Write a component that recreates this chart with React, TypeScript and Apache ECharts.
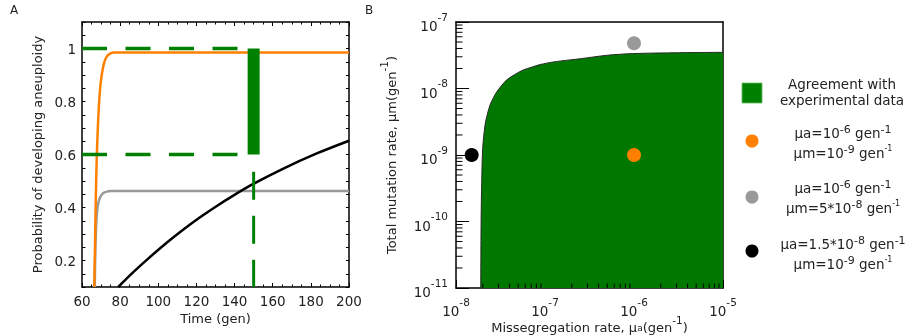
import React, { useEffect, useRef } from "react";
import * as echarts from "echarts";

// ---------- Panel A data ----------
const timeOrange = [66.4, 66.8, 67.2, 67.7, 68.3, 69.0, 69.8, 70.8, 72.0, 73.2, 74.8, 76.6, 200];
const probOrange = [0.1, 0.25, 0.42, 0.58, 0.7, 0.8, 0.87, 0.92, 0.955, 0.972, 0.981, 0.985, 0.985];
const timeGray = [66.7, 67.0, 67.4, 67.9, 68.5, 69.4, 70.5, 71.8, 73.2, 75.0, 200];
const probGray = [0.1, 0.24, 0.33, 0.385, 0.415, 0.437, 0.45, 0.457, 0.46, 0.462, 0.462];
const timeBlack = [79, 86.9, 95.0, 104.4, 113.0, 121.9, 130.5, 139.3, 149.8, 165.6, 183.1, 200];
const probBlack = [0.1, 0.156, 0.209, 0.267, 0.316, 0.363, 0.405, 0.445, 0.489, 0.547, 0.604, 0.652];
const refTime = [60, 150];
const refUpper = [1, 1];
const refLower = [0.6, 0.6];
const barTime = [150, 150];
const barProb = [0.6, 1.0];
const cutTime = [150, 150];
const cutProb = [0.535, 0.1];
const xTicksA = [60, 200, 20];
const yLabelsA = [0.2, 0.4, 0.6, 0.8, 1];

// ---------- Panel B data (log10 of the rates) ----------
const boundaryLogMuA = [-7.722, -7.718, -7.711, -7.7, -7.674, -7.65, -7.618, -7.58, -7.542, -7.49, -7.43, -7.34, -7.243, -7.15, -7.055, -6.9, -6.718, -6.605, -6.3, -6.009, -5.5, -5.0];
const boundaryLogMuM = [-11.0, -10.0, -9.4, -8.9, -8.55, -8.4, -8.25, -8.14, -8.05, -7.96, -7.87, -7.79, -7.72, -7.68, -7.64, -7.6, -7.57, -7.553, -7.5, -7.475, -7.462, -7.456];
const pointOrange = [1e-6, 1e-9];
const pointGray = [1e-6, 4.8e-8];
const pointBlack = [1.5e-8, 1e-9];
const xDecadesB = [-8, -7, -6, -5];
const yDecadesB = [-11, -10, -9, -8, -7];
const minorMultipliers = [2, 3, 4, 5, 6, 7, 8, 9];

const FONT = "DejaVu Sans";
const TXT = "#222";
const GREEN = "#008000";
const FILL = "#007800";
const ORANGE = "#ff8000";
const GRAY = "#999999";

const lg = (v: number) => Math.log10(v);
const zip = (a: number[], b: number[]) => a.map((v, i) => [v, b[i]]);

function minorLogs(decades: number[]) {
  const out: number[] = [];
  for (let i = 0; i < decades.length - 1; i++) {
    for (const m of minorMultipliers) out.push(decades[i] + lg(m));
  }
  return out;
}

const supRich = {
  b: { fontSize: 13.5, fontFamily: FONT, color: TXT, lineHeight: 22, verticalAlign: "bottom" as const },
  s: { fontSize: 10.5, fontFamily: FONT, color: TXT, lineHeight: 12, verticalAlign: "top" as const },
};

export default function App() {
  const ref = useRef<HTMLDivElement>(null);
  useEffect(() => {
    document.body.style.margin = "0";
    if (!ref.current) return;
    const chart = echarts.init(ref.current, null, { renderer: "svg" });

    const black = { color: "#000" };
    const nameStyle = { fontSize: 13, fontFamily: FONT, color: TXT };
    const labelStyle = { fontSize: 13.5, fontFamily: FONT, color: TXT };
    const logLabel = (v: number) => `{b|10}{s|-${Math.abs(Math.round(v))}}`;

    const legendLine = (x: number, y: number, text: string) => ({
      type: "text",
      x,
      y,
      style: {
        text,
        align: "center",
        verticalAlign: "middle",
        fill: TXT,
        font: `13.5px ${FONT}`,
        rich: {
          b: { fontSize: 13.5, fontFamily: FONT, fill: TXT, lineHeight: 16, verticalAlign: "bottom" },
          s: { fontSize: 11, fontFamily: FONT, fill: TXT, lineHeight: 10, verticalAlign: "top" },
          t: { fontSize: 8, fontFamily: FONT, fill: TXT, lineHeight: 10, verticalAlign: "top" },
        },
      },
    });

    const option: any = {
      animation: false,
      textStyle: { fontFamily: FONT },
      grid: [
        { left: 82, top: 22, width: 267, height: 265, outerBoundsMode: "none", containLabel: false },
        { left: 456, top: 22, width: 267, height: 266, outerBoundsMode: "none", containLabel: false },
      ],
      xAxis: [
        {
          gridIndex: 0, type: "value", position: "bottom",
          min: xTicksA[0], max: xTicksA[1], interval: xTicksA[2],
          axisLine: { lineStyle: { color: "#000", width: 1.5 } },
          axisTick: { inside: true, length: 4, lineStyle: black },
          minorTick: { show: true, splitNumber: 4, length: 2.5, lineStyle: black },
          splitLine: { show: false },
          axisLabel: { ...labelStyle, margin: 7 },
          name: "Time (gen)", nameLocation: "middle", nameGap: 25, nameMoveOverlap: false,
          nameTextStyle: nameStyle,
        },
        {
          gridIndex: 0, type: "value", position: "top",
          min: xTicksA[0], max: xTicksA[1], interval: xTicksA[2],
          axisLine: { lineStyle: { color: "#000", width: 1.5 } },
          axisTick: { inside: true, length: 4, lineStyle: black },
          minorTick: { show: true, splitNumber: 4, length: 2.5, lineStyle: black },
          splitLine: { show: false },
          axisLabel: { show: false },
        },
        {
          gridIndex: 1, type: "value", position: "bottom",
          min: xDecadesB[0], max: xDecadesB[xDecadesB.length - 1], interval: 1,
          axisLine: { lineStyle: { color: "#000", width: 1.5 } },
          axisTick: { inside: true, length: 8, lineStyle: black },
          splitLine: { show: false },
          axisLabel: { formatter: logLabel, rich: supRich, margin: 8 },
          name: "{b|Missegregation rate, μ}{sub|a}{b|(gen}{s|-1}{b|)}",
          nameLocation: "middle", nameGap: 26, nameMoveOverlap: false,
          nameTextStyle: {
            rich: {
              b: { fontSize: 13, fontFamily: FONT, color: TXT, lineHeight: 20, verticalAlign: "bottom" },
              sub: { fontSize: 9, fontFamily: FONT, color: TXT, lineHeight: 20, verticalAlign: "bottom", padding: [0, 0, 2, 0] },
              s: { fontSize: 10.5, fontFamily: FONT, color: TXT, lineHeight: 12, verticalAlign: "top" },
            },
          },
        },
        {
          gridIndex: 1, type: "value", position: "top",
          min: xDecadesB[0], max: xDecadesB[xDecadesB.length - 1], interval: 1,
          axisLine: { lineStyle: { color: "#000", width: 1.5 } },
          axisTick: { show: false }, axisLabel: { show: false }, splitLine: { show: false },
        },
      ],
      yAxis: [
        {
          gridIndex: 0, type: "value", position: "left",
          min: 0.1, max: 1.1, interval: 0.05,
          axisLine: { lineStyle: { color: "#000", width: 1.5 } },
          axisTick: { inside: true, length: 3.5, lineStyle: black },
          splitLine: { show: false },
          axisLabel: {
            ...labelStyle, margin: 6, customValues: yLabelsA,
            formatter: (v: number) => (Math.abs(v - 1) < 1e-9 ? "1" : v.toFixed(1)),
          },
          name: "Probability of developing aneuploidy", nameLocation: "middle", nameGap: 38,
          nameMoveOverlap: false, nameTextStyle: nameStyle,
        },
        {
          gridIndex: 0, type: "value", position: "right",
          min: 0.1, max: 1.1, interval: 0.05,
          axisLine: { lineStyle: { color: "#000", width: 1.5 } },
          axisTick: { inside: true, length: 3, lineStyle: black },
          splitLine: { show: false }, axisLabel: { show: false },
        },
        {
          gridIndex: 1, type: "value", position: "left",
          min: yDecadesB[0], max: yDecadesB[yDecadesB.length - 1], interval: 1,
          axisLine: { lineStyle: { color: "#000", width: 1.5 } },
          axisTick: { inside: true, length: 13, lineStyle: black },
          splitLine: { show: false },
          axisLabel: { formatter: logLabel, rich: supRich, margin: 8 },
          name: "{b|Total mutation rate, μm(gen}{s|-1}{b|)}",
          nameLocation: "middle", nameGap: 58, nameMoveOverlap: false,
          nameTextStyle: {
            rich: {
              b: { fontSize: 13, fontFamily: FONT, color: TXT, lineHeight: 20, verticalAlign: "bottom" },
              s: { fontSize: 10.5, fontFamily: FONT, color: TXT, lineHeight: 12, verticalAlign: "top" },
            },
          },
        },
        {
          gridIndex: 1, type: "value", position: "right",
          min: yDecadesB[0], max: yDecadesB[yDecadesB.length - 1], interval: 1,
          axisLine: { lineStyle: { color: "#000", width: 1.5 } },
          axisTick: { show: false }, axisLabel: { show: false }, splitLine: { show: false },
        },
      ],
      series: [
        // ---- Panel A ----
        {
          type: "line", xAxisIndex: 0, yAxisIndex: 0, data: zip(timeGray, probGray),
          showSymbol: false, smooth: 0.3, lineStyle: { color: GRAY, width: 2.5 }, z: 2,
        },
        {
          type: "line", xAxisIndex: 0, yAxisIndex: 0, data: zip(timeBlack, probBlack),
          showSymbol: false, smooth: 0.3, lineStyle: { color: "#000", width: 2.5 }, z: 2,
        },
        {
          type: "line", xAxisIndex: 0, yAxisIndex: 0, data: zip(timeOrange, probOrange),
          showSymbol: false, smooth: 0.3, lineStyle: { color: ORANGE, width: 2.5 }, z: 2,
        },
        {
          type: "line", xAxisIndex: 0, yAxisIndex: 0, data: zip(refTime, refUpper),
          showSymbol: false, lineStyle: { color: GREEN, width: 3.5, type: [25, 18.5] }, z: 3,
        },
        {
          type: "line", xAxisIndex: 0, yAxisIndex: 0, data: zip(refTime, refLower),
          showSymbol: false, lineStyle: { color: GREEN, width: 3.5, type: [25, 18.5] }, z: 3,
        },
        {
          type: "line", xAxisIndex: 0, yAxisIndex: 0, data: zip(barTime, barProb),
          showSymbol: false, lineStyle: { color: GREEN, width: 12, cap: "butt" }, z: 4,
        },
        {
          type: "line", xAxisIndex: 0, yAxisIndex: 0, data: zip(cutTime, cutProb),
          showSymbol: false, lineStyle: { color: GREEN, width: 3, type: [28, 16] }, z: 4,
        },
        // ---- Panel B ----
        {
          type: "line", xAxisIndex: 2, yAxisIndex: 2, data: zip(boundaryLogMuA, boundaryLogMuM),
          showSymbol: false, smooth: 0.3,
          lineStyle: { color: "#2a2a2a", width: 1 },
          areaStyle: { color: FILL, opacity: 1, origin: "start" }, z: 1,
        },
        {
          type: "scatter", xAxisIndex: 2, yAxisIndex: 2,
          data: [[lg(pointOrange[0]), lg(pointOrange[1])]],
          symbolSize: 14, itemStyle: { color: ORANGE, opacity: 1 }, z: 5,
        },
        {
          type: "scatter", xAxisIndex: 2, yAxisIndex: 2,
          data: [[lg(pointGray[0]), lg(pointGray[1])]],
          symbolSize: 14, itemStyle: { color: GRAY, opacity: 1 }, z: 5,
        },
        {
          type: "scatter", xAxisIndex: 2, yAxisIndex: 2,
          data: [[lg(pointBlack[0]), lg(pointBlack[1])]],
          symbolSize: 14, itemStyle: { color: "#000", opacity: 1 }, z: 5,
        },
        {
          type: "custom", xAxisIndex: 2, yAxisIndex: 2, z: 6, silent: true,
          data: minorLogs(xDecadesB).map((v) => [v, yDecadesB[0]]),
          renderItem: (_p: any, api: any) => {
            const p = api.coord([api.value(0), yDecadesB[0]]);
            return {
              type: "line",
              shape: { x1: p[0], y1: p[1], x2: p[0], y2: p[1] - 4.5 },
              style: { stroke: "#000", lineWidth: 1 },
            };
          },
        },
        {
          type: "custom", xAxisIndex: 2, yAxisIndex: 2, z: 6, silent: true,
          data: minorLogs(yDecadesB).map((v) => [xDecadesB[0], v]),
          renderItem: (_p: any, api: any) => {
            const p = api.coord([xDecadesB[0], api.value(1)]);
            return {
              type: "line",
              shape: { x1: p[0], y1: p[1], x2: p[0] + 6.5, y2: p[1] },
              style: { stroke: "#000", lineWidth: 1 },
            };
          },
        },
      ],
      graphic: [
        { type: "text", x: 10, y: 4, style: { text: "A", font: `12px ${FONT}`, fill: TXT } },
        { type: "text", x: 365, y: 4, style: { text: "B", font: `12px ${FONT}`, fill: TXT } },
        { type: "rect", shape: { x: 742, y: 83, width: 20, height: 20 }, style: { fill: GREEN, stroke: "#5fbf5f", lineWidth: 0.8 } },
        { type: "circle", shape: { cx: 752, cy: 141, r: 6.5 }, style: { fill: ORANGE } },
        { type: "circle", shape: { cx: 752, cy: 197, r: 6.5 }, style: { fill: GRAY } },
        { type: "circle", shape: { cx: 752, cy: 251, r: 6.5 }, style: { fill: "#000" } },
        {
          type: "text", x: 842, y: 92,
          style: { text: "Agreement with\nexperimental data", align: "center", verticalAlign: "middle", font: `13.5px ${FONT}`, lineHeight: 16, fill: TXT },
        },
        legendLine(843, 132, "{b|μa=10}{s|-6}{b| gen}{s|-1}"),
        legendLine(843, 152, "{b|μm=10}{s|-9}{b| gen}{t|-1}"),
        legendLine(843, 187, "{b|μa=10}{s|-6}{b| gen}{s|-1}"),
        legendLine(843, 207, "{b|μm=5*10}{s|-8}{b| gen}{t|-1}"),
        legendLine(843, 243, "{b|μa=1.5*10}{s|-8}{b| gen}{s|-1}"),
        legendLine(843, 263, "{b|μm=10}{s|-9}{b| gen}{t|-1}"),
      ],
    };
    chart.setOption(option);
    return () => chart.dispose();
  }, []);
  return <div ref={ref} style={{ position: "fixed", left: 0, top: 0, width: 914, height: 336 }} />;
}
